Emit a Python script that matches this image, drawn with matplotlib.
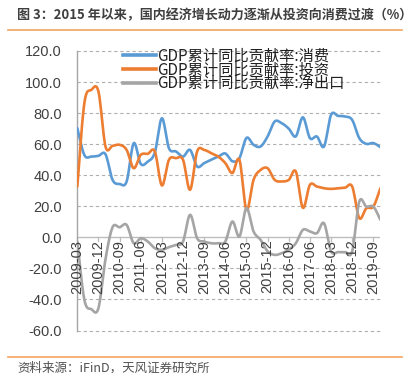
import numpy as np
import matplotlib
matplotlib.use("Agg")
import matplotlib.pyplot as plt
from matplotlib.lines import Line2D

plt.rcParams['font.family'] = ['Noto Sans CJK SC', 'DejaVu Sans']

# quarterly periods 2009-03 .. 2019-12
years = list(range(2009, 2020))
months = ["03", "06", "09", "12"]
periods = [f"{y}-{m}" for y in years for m in months]

consumption = [70.3, 53.0, 52.0, 52.5, 53.5, 37.0, 34.4, 36.0, 60.6, 47.3, 48.8,
               54.6, 76.7, 57.4, 55.3, 52.0, 56.3, 45.6, 47.8, 50.0, 52.0, 54.0,
               49.0, 51.0, 64.0, 59.6, 58.5, 65.0, 74.6, 73.5, 70.0, 65.0, 77.3,
               63.9, 64.9, 58.5, 78.9, 78.2, 77.8, 75.6, 63.9, 60.2, 60.7, 58.1]
investment = [32.7, 86.4, 95.0, 93.9, 58.5, 58.9, 59.6, 56.3, 44.5, 53.1, 53.8,
              55.3, 33.4, 49.9, 51.0, 49.9, 30.6, 55.3, 56.3, 54.2, 52.0, 47.8,
              41.4, 49.9, 17.7, 37.0, 43.4, 44.5, 37.0, 36.0, 37.0, 42.4, 19.0,
              33.8, 32.7, 31.6, 31.2, 31.6, 32.0, 32.7, 12.4, 18.7, 19.8, 31.6]
net_exports = [-2.7, -40.2, -46.3, -45.6, -14.0, 6.5, 6.5, 8.0, -3.8, -0.6, -2.7,
               -7.0, -8.0, -6.3, -4.9, -2.7, 14.5, -0.6, -2.7, -3.8, -3.8, -2.7,
               10.2, 0.5, 18.8, 3.8, -1.6, -9.0, -11.3, -10.2, -8.0, -3.8, 4.8,
               3.8, 2.7, 9.1, -9.0, -9.5, -9.5, -9.0, 23.0, 19.8, 19.8, 11.3]

series_names = ["GDP累计同比贡献率:消费", "GDP累计同比贡献率:投资", "GDP累计同比贡献率:净出口"]
colors = ["#5B9BD5", "#ED7D31", "#A5A5A5"]
yticks = [-60, -40, -20, 0, 20, 40, 60, 80, 100, 120]
tick_step = 3

title = "图 3：2015 年以来，国内经济增长动力逐渐从投资向消费过渡（%）"
source = "资料来源：iFinD，天风证券研究所"


def smooth(x, y, n=12):
    # Catmull-Rom rendering (Excel smoothed line style)
    x = np.asarray(x, float); y = np.asarray(y, float)
    px = np.concatenate([[2 * x[0] - x[1]], x, [2 * x[-1] - x[-2]]])
    py = np.concatenate([[2 * y[0] - y[1]], y, [2 * y[-1] - y[-2]]])
    ox, oy = [], []
    t = np.linspace(0, 1, n, endpoint=False)
    for i in range(1, len(px) - 2):
        p0, p1, p2, p3 = py[i - 1], py[i], py[i + 1], py[i + 2]
        q0, q1, q2, q3 = px[i - 1], px[i], px[i + 1], px[i + 2]
        c1y, c2y = p1 + (p2 - p0) / 6, p2 - (p3 - p1) / 6
        c1x, c2x = q1 + (q2 - q0) / 6, q2 - (q3 - q1) / 6
        b0 = (1 - t) ** 3; b1 = 3 * (1 - t) ** 2 * t; b2 = 3 * (1 - t) * t ** 2; b3 = t ** 3
        ox.append(b0 * q1 + b1 * c1x + b2 * c2x + b3 * q2)
        oy.append(b0 * p1 + b1 * c1y + b2 * c2y + b3 * p2)
    ox.append([x[-1]]); oy.append([y[-1]])
    return np.concatenate(ox), np.concatenate(oy)


fig = plt.figure(figsize=(4.12, 3.73), dpi=100)
W, H = 412, 373
ax = fig.add_axes([77.3 / W, 1 - 330.5 / H, (380.4 - 77.3) / W, (330.5 - 51) / H])

x = np.arange(len(periods))
for vals, c in zip([consumption, investment, net_exports], colors):
    sx, sy = smooth(x, vals)
    ax.plot(sx, sy, color=c, lw=1.9, solid_capstyle='round', zorder=3)

ax.set_xlim(0, len(periods) - 1)
ax.set_ylim(-60, 120)
ax.set_yticks(yticks)
ax.set_yticklabels([f"{v:.1f}" for v in yticks], fontsize=10.5, color="#404040",
                   family=['Liberation Sans', 'DejaVu Sans'])
ax.tick_params(axis='y', length=0, pad=11)
for v in yticks:
    if v != 0:
        ax.axhline(v, color="#B0B0B0", lw=0.8, ls=(0, (3, 2.5)), zorder=1, clip_on=False)
ax.axhline(0, color="#BDBDBD", lw=1.0, zorder=2)
for s in ["top", "right", "bottom"]:
    ax.spines[s].set_visible(False)
ax.spines["left"].set_color("#A6A6A6")
ax.spines["left"].set_linewidth(1.0)

# x axis ticks at zero line
ax.set_xticks([])
tick_idx = list(range(0, len(periods), tick_step))
for i in tick_idx:
    ax.plot([i, i], [0, -2.2], color="#BDBDBD", lw=0.9, zorder=2, clip_on=False)
    ax.text(i, -1.5, periods[i], rotation=90, ha='center', va='top', fontsize=10.5,
            color="#404040", family=['Liberation Sans', 'DejaVu Sans'], zorder=4)

handles = [Line2D([0], [0], color=c, lw=2.6) for c in colors]
leg = ax.legend(handles, series_names, loc='upper left', bbox_to_anchor=(0.13, 1.035),
                frameon=False, fontsize=11, handlelength=2.2, handletextpad=0.05,
                labelspacing=-0.2, borderaxespad=0)
for t in leg.get_texts():
    t.set_color("#202020")

fig.text(17 / W, 1 - 15 / H, title, fontsize=9.4, color="#3F3F3F", va='center', ha='left',
         weight='bold')
fig.add_artist(Line2D([8 / W, 402 / W], [1 - 29.5 / H, 1 - 29.5 / H], color="#F4A460", lw=1.2))
fig.add_artist(Line2D([8 / W, 402 / W], [1 - 356.5 / H, 1 - 356.5 / H], color="#F4A460", lw=1.2))
fig.text(17 / W, 1 - 368 / H, source, fontsize=9, color="#505050", va='center', ha='left')

fig.savefig("out.png", dpi=100)
